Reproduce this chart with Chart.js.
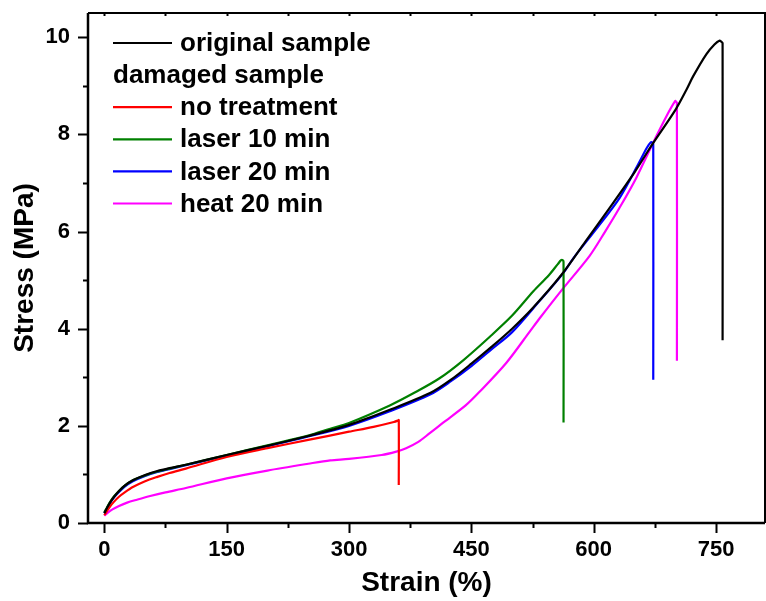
<!DOCTYPE html>
<html>
<head>
<meta charset="utf-8">
<script src="https://cdn.jsdelivr.net/npm/chart.js@4.4.1/dist/chart.umd.min.js"></script>
<style>
  html, body { margin: 0; padding: 0; background: #fff; }
  #wrap { width: 766px; height: 601px; }
</style>
</head>
<body>
<div id="wrap"><canvas id="stressChart" width="766" height="601"></canvas></div>
<script>
// tick values
const xTicks = [0, 150, 300, 450, 600, 750];
const yTicks = [0, 2, 4, 6, 8, 10];

// original sample
const originalStrain = [0, 3, 7, 12, 18, 25, 35, 50, 65, 80, 100, 150, 200, 250, 300, 350, 400, 425, 450, 475, 500, 525, 560, 590, 620, 650, 672, 700, 714, 722, 738, 748, 754, 757, 758, 758];
const originalStress = [0.2, 0.3, 0.42, 0.54, 0.66, 0.77, 0.88, 0.99, 1.07, 1.13, 1.2, 1.4, 1.59, 1.79, 2.02, 2.33, 2.68, 2.95, 3.28, 3.63, 4.0, 4.42, 5.1, 5.8, 6.5, 7.22, 7.8, 8.5, 8.93, 9.2, 9.65, 9.85, 9.93, 9.9, 9.88, 3.76];

// damaged: no treatment
const noTreatStrain = [0, 3, 7, 12, 18, 25, 35, 50, 65, 80, 100, 150, 200, 250, 300, 330, 355, 360, 361, 361];
const noTreatStress = [0.16, 0.24, 0.34, 0.44, 0.54, 0.63, 0.74, 0.86, 0.95, 1.03, 1.12, 1.36, 1.54, 1.71, 1.88, 1.98, 2.08, 2.11, 2.12, 0.78];

// damaged: laser 10 min
const laser10Strain = [0, 3, 7, 12, 18, 25, 35, 50, 65, 80, 100, 150, 200, 250, 277, 300, 350, 380, 411, 440, 473, 500, 526, 545, 556, 560, 562, 563, 563];
const laser10Stress = [0.22, 0.31, 0.43, 0.55, 0.66, 0.77, 0.88, 0.98, 1.06, 1.12, 1.2, 1.4, 1.6, 1.8, 1.94, 2.06, 2.42, 2.68, 2.98, 3.35, 3.84, 4.27, 4.77, 5.1, 5.33, 5.41, 5.41, 5.38, 2.07];

// damaged: laser 20 min
const laser20Strain = [0, 3, 7, 12, 18, 25, 35, 50, 65, 80, 100, 150, 200, 250, 300, 350, 400, 425, 450, 475, 500, 534, 562, 575, 603, 632, 655, 665, 670, 672, 673, 673];
const laser20Stress = [0.2, 0.29, 0.41, 0.53, 0.64, 0.75, 0.86, 0.97, 1.05, 1.11, 1.19, 1.39, 1.58, 1.78, 2.0, 2.3, 2.65, 2.92, 3.23, 3.58, 3.93, 4.58, 5.13, 5.45, 6.05, 6.7, 7.4, 7.72, 7.84, 7.83, 7.8, 2.95];

// damaged: heat 20 min
const heatStrain = [0, 4, 10, 18, 28, 40, 55, 75, 100, 150, 200, 250, 277, 300, 340, 358, 370, 385, 399, 415, 443, 460, 493, 522, 534, 562, 595, 614, 632, 652, 672, 690, 700, 701, 702, 702];
const heatStress = [0.15, 0.21, 0.28, 0.35, 0.42, 0.48, 0.55, 0.63, 0.72, 0.92, 1.08, 1.22, 1.29, 1.32, 1.4, 1.47, 1.54, 1.67, 1.85, 2.06, 2.42, 2.7, 3.3, 3.95, 4.22, 4.82, 5.5, 6.0, 6.5, 7.1, 7.8, 8.4, 8.69, 8.67, 8.65, 3.34];

const legendHeader = 'damaged sample';

function toPoints(xs, ys) {
    return xs.map((x, i) => ({ x: x, y: ys[i] }));
}

function makeSet(label, xs, ys, color) {
    return {
        label: label,
        data: toPoints(xs, ys),
        borderColor: color,
        backgroundColor: color,
        borderWidth: 2.2,
        pointRadius: 0,
        showLine: true,
        tension: 0.3,
        fill: false
    };
}

const FONT = "'Liberation Sans', Arial, sans-serif";

// draws the frame, the tick marks and the legend
const framePlugin = {
    id: 'frame',
    afterDraw(chart) {
        const ctx = chart.ctx;
        const area = chart.chartArea;
        const xs = chart.scales.x;
        const ys = chart.scales.y;
        ctx.save();
        ctx.strokeStyle = '#000';
        ctx.lineCap = 'butt';

        // box
        ctx.lineWidth = 2.5;
        ctx.beginPath();
        ctx.moveTo(area.left, area.top);
        ctx.lineTo(area.left, area.bottom);
        ctx.lineTo(area.right, area.bottom);
        ctx.stroke();
        ctx.lineWidth = 2;
        ctx.beginPath();
        ctx.moveTo(area.left, area.top);
        ctx.lineTo(area.right, area.top);
        ctx.lineTo(area.right, area.bottom);
        ctx.stroke();

        // ticks
        ctx.lineWidth = 2;
        ctx.beginPath();
        for (let v = 0; v <= 800; v += 75) {
            const px = Math.round(xs.getPixelForValue(v)) + 0.5;
            const major = v % 150 === 0;
            ctx.moveTo(px, area.bottom);
            ctx.lineTo(px, area.bottom + (major ? 10 : 5));
            ctx.moveTo(px, area.top);
            ctx.lineTo(px, area.top + 3);
        }
        for (let v = 0; v <= 10; v += 1) {
            const py = Math.round(ys.getPixelForValue(v)) + 0.5;
            const major = v % 2 === 0;
            ctx.moveTo(area.left, py);
            ctx.lineTo(area.left - (major ? 10 : 5), py);
        }
        ctx.stroke();

        // legend
        ctx.font = 'bold 26px ' + FONT;
        ctx.textBaseline = 'middle';
        ctx.fillStyle = '#000';
        const rows = [0, 2, 3, 4, 5];
        const sets = chart.data.datasets;
        ctx.fillText(legendHeader, 113, 76);
        sets.forEach((ds, i) => {
            const y = 43 + rows[i] * 32.1;
            ctx.strokeStyle = ds.borderColor;
            ctx.lineWidth = 2.2;
            ctx.beginPath();
            ctx.moveTo(113, y);
            ctx.lineTo(172, y);
            ctx.stroke();
            ctx.fillText(ds.label, 180, y + 1);
        });
        ctx.restore();
    }
};

const ctxStress = document.getElementById('stressChart').getContext('2d');
const stressChart = new Chart(ctxStress, {
    type: 'scatter',
    data: {
        datasets: [
            makeSet('original sample', originalStrain, originalStress, '#000000'),
            makeSet('no treatment', noTreatStrain, noTreatStress, '#ff0000'),
            makeSet('laser 10 min', laser10Strain, laser10Stress, '#008000'),
            makeSet('laser 20 min', laser20Strain, laser20Stress, '#0000ff'),
            makeSet('heat 20 min', heatStrain, heatStress, '#ff00ff')
        ]
    },
    options: {
        responsive: false,
        animation: false,
        layout: { padding: { top: 13, right: 1, left: 0, bottom: 0 } },
        plugins: {
            legend: { display: false },
            tooltip: { enabled: false }
        },
        scales: {
            x: {
                type: 'linear',
                min: -20,
                max: 810,
                grid: { display: false, drawTicks: false },
                border: { display: false },
                afterBuildTicks: scale => { scale.ticks = xTicks.map(v => ({ value: v })); },
                afterFit: scale => {
                    scale.height = 78;
                    scale.paddingLeft = 0;
                    scale.paddingRight = 0;
                },
                ticks: {
                    color: '#000',
                    padding: 14,
                    maxRotation: 0,
                    font: { family: FONT, size: 22, weight: 'bold' }
                },
                title: {
                    display: true,
                    text: 'Strain (%)',
                    color: '#000',
                    padding: { top: 0, bottom: 1 },
                    font: { family: FONT, size: 28, weight: 'bold' }
                }
            },
            y: {
                type: 'linear',
                min: 0,
                max: 10.5,
                grid: { display: false, drawTicks: false },
                border: { display: false },
                afterBuildTicks: scale => { scale.ticks = yTicks.map(v => ({ value: v })); },
                afterFit: scale => {
                    scale.width = 88;
                    scale.paddingTop = 0;
                    scale.paddingBottom = 0;
                },
                ticks: {
                    color: '#000',
                    padding: 18,
                    font: { family: FONT, size: 22, weight: 'bold' }
                },
                title: {
                    display: true,
                    text: 'Stress (MPa)',
                    color: '#000',
                    padding: { top: 8, bottom: 0 },
                    font: { family: FONT, size: 28, weight: 'bold' }
                }
            }
        }
    },
    plugins: [framePlugin]
});
</script>
</body>
</html>
